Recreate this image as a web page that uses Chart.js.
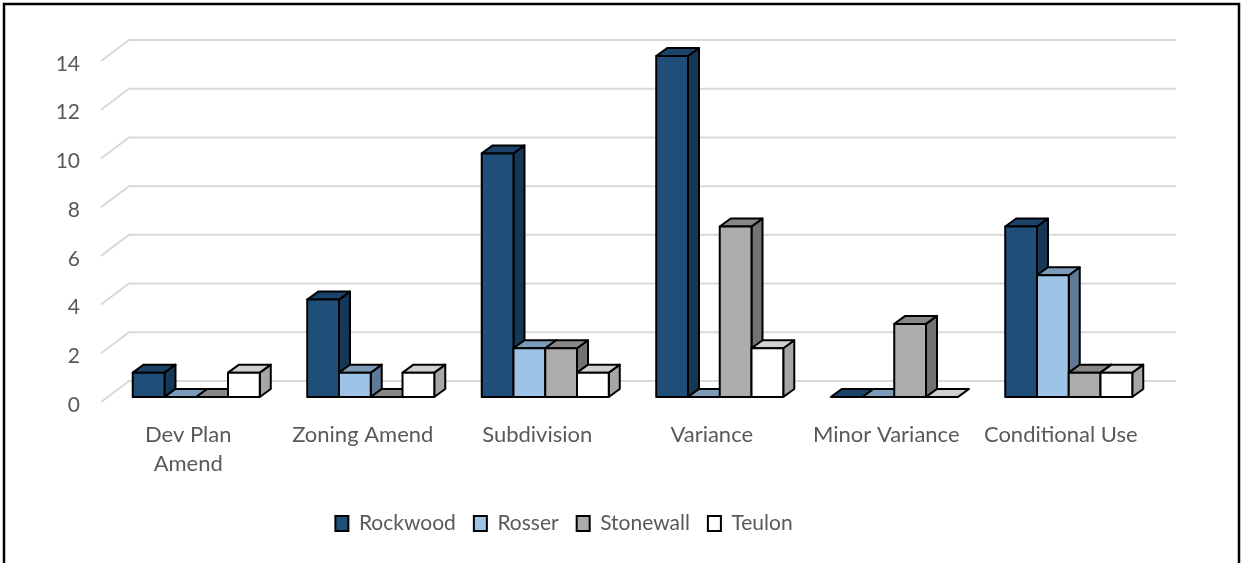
<!DOCTYPE html>
<html>
<head>
<meta charset="utf-8">
<script src="https://cdn.jsdelivr.net/npm/chart.js@4.4.1/dist/chart.umd.min.js"></script>
<style>
  body { margin: 0; background: #fff; }
  #wrap { width: 1246px; height: 563px; }
</style>
</head>
<body>
<div id="wrap"><canvas id="permitChart" width="1246" height="563"></canvas></div>
<script>
// categories and counts per municipality
const categories = [['Dev Plan', 'Amend'], 'Zoning Amend', 'Subdivision', 'Variance', 'Minor Variance', 'Conditional Use'];
const seriesNames = ['Rockwood', 'Rosser', 'Stonewall', 'Teulon'];
const rockwood = [1, 4, 10, 14, 0, 7];
const rosser = [0, 1, 2, 0, 0, 5];
const stonewall = [0, 0, 2, 7, 3, 1];
const teulon = [1, 1, 1, 2, 0, 1];
const yMax = 14;
const yStep = 2;

// face colours for the fake 3d boxes: front, top, side
const faces = [
  { front: '#1F4E79', top: '#1B4369', side: '#173757' },
  { front: '#9DC3E6', top: '#7C9BBA', side: '#5F7A96' },
  { front: '#AEABAB', top: '#898686', side: '#747171' },
  { front: '#FFFFFF', top: '#D0D0D0', side: '#A6A6A6' }
];

const wallDepth = { x: 28, y: -21 };  // floor front -> back wall
const barShift = { x: 8, y: -5 };     // floor front -> bar front
const barDepth = { x: 11, y: -8 };    // bar front -> bar back

Chart.defaults.font.family = 'Lato, "Open Sans", sans-serif';
Chart.defaults.color = '#595959';

function poly(ctx, pts, fill) {
  ctx.beginPath();
  ctx.moveTo(pts[0][0], pts[0][1]);
  for (let i = 1; i < pts.length; i++) ctx.lineTo(pts[i][0], pts[i][1]);
  ctx.closePath();
  ctx.fillStyle = fill;
  ctx.fill();
  ctx.stroke();
}

const frame3d = {
  id: 'frame3d',
  beforeDraw(chart) {
    // outer chart border (bottom edge is off the picture)
    const ctx = chart.ctx;
    ctx.save();
    ctx.strokeStyle = '#000';
    ctx.lineWidth = 2.5;
    ctx.beginPath();
    ctx.moveTo(4, 563);
    ctx.lineTo(4, 4);
    ctx.lineTo(1239, 4);
    ctx.lineTo(1239, 563);
    ctx.stroke();
    ctx.restore();
  },
  afterLayout(chart) {
    // legend sits a bit left of centre in the original
    const lg = chart.legend;
    lg.left -= 10;
    lg.right -= 10;
  },
  beforeDatasetsDraw(chart) {
    // grid: diagonal on the side wall, then line along the back wall
    const { ctx, chartArea, scales } = chart;
    ctx.save();
    ctx.strokeStyle = '#D9D9D9';
    ctx.lineWidth = 2;
    scales.y.ticks.forEach(t => {
      const y = scales.y.getPixelForValue(t.value);
      ctx.beginPath();
      ctx.moveTo(chartArea.left, y);
      ctx.lineTo(chartArea.left + wallDepth.x, y + wallDepth.y);
      ctx.lineTo(chartArea.right + wallDepth.x, y + wallDepth.y);
      ctx.stroke();
    });
    ctx.restore();
  },
  beforeDatasetDraw() {
    return false; // boxes are drawn below
  },
  afterDatasetsDraw(chart) {
    const ctx = chart.ctx;
    ctx.save();
    ctx.strokeStyle = '#000';
    ctx.lineWidth = 2;
    ctx.lineJoin = 'round';
    const dx = barDepth.x, dy = barDepth.y;
    categories.forEach((_, i) => {
      chart.data.datasets.forEach((ds, d) => {
        const bar = chart.getDatasetMeta(d).data[i];
        const l = bar.x - bar.width / 2 + barShift.x;
        const r = bar.x + bar.width / 2 + barShift.x;
        const top = bar.y + barShift.y;
        const base = bar.base + barShift.y;
        const c = faces[d];
        poly(ctx, [[r, top], [r + dx, top + dy], [r + dx, base + dy], [r, base]], c.side);
        poly(ctx, [[l, top], [l + dx, top + dy], [r + dx, top + dy], [r, top]], c.top);
        if (base - top > 0.5) poly(ctx, [[l, top], [r, top], [r, base], [l, base]], c.front);
      });
    });
    ctx.restore();
  }
};

const ctx = document.getElementById('permitChart').getContext('2d');
const chart = new Chart(ctx, {
  type: 'bar',
  data: {
    labels: categories,
    datasets: [rockwood, rosser, stonewall, teulon].map((vals, d) => ({
      label: seriesNames[d],
      data: vals,
      backgroundColor: faces[d].front,
      borderColor: '#000',
      borderWidth: 2
    }))
  },
  options: {
    responsive: false,
    animation: false,
    layout: { padding: { left: 0, right: 98, top: 61, bottom: 19 } },
    datasets: {
      bar: { categoryPercentage: 0.728, barPercentage: 1 }
    },
    scales: {
      x: {
        grid: { display: false },
        border: { display: false },
        ticks: { font: { size: 22, lineHeight: 1.32 }, padding: 10, maxRotation: 0, autoSkip: false },
        afterFit(scale) { scale.height = 93; }
      },
      y: {
        min: 0,
        max: yMax,
        grid: { display: false, drawTicks: false },
        border: { display: false },
        ticks: { stepSize: yStep, font: { size: 21 }, padding: 21, labelOffset: 3 },
        afterFit(scale) { scale.width = 101; }
      }
    },
    plugins: {
      tooltip: { enabled: false },
      legend: {
        position: 'bottom',
        labels: {
          boxWidth: 13,
          boxHeight: 15,
          padding: 18,
          color: '#595959',
          font: { size: 21 }
        }
      }
    }
  },
  plugins: [frame3d]
});
</script>
</body>
</html>
